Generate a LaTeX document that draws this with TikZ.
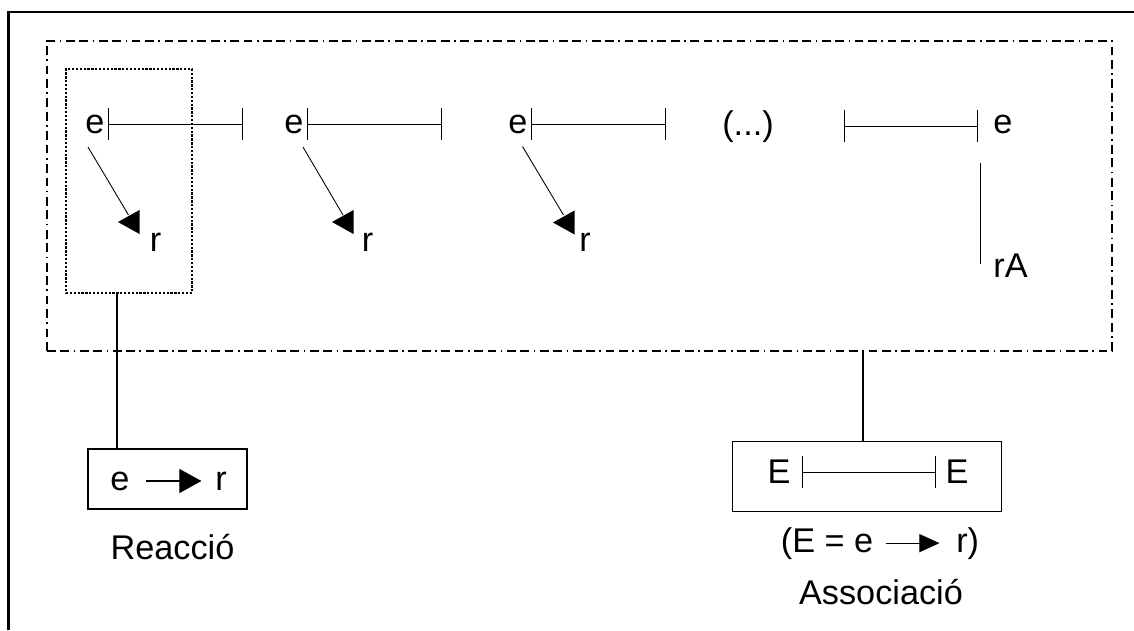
\documentclass[tikz,border=0pt]{standalone}
\usepackage{fontspec}
\setmainfont{Liberation Sans}
\usetikzlibrary{arrows.meta}
\def\headleft(#1){\fill (#1) -- ++(0.43,0.24) -- ++(0,-0.48) -- cycle;}
\tikzset{
	txt/.style={inner sep=2pt, font=\fontsize{19.5}{23}\selectfont},
	seg/.style={line width=0.5pt, {Bar[width=0.64cm]}-{Bar[width=0.64cm]}},
	bx/.style={draw, line width=0.6pt, inner sep=0pt},
}

\begin{document}
\begin{tikzpicture}
			%%%%% START %%%%%
			
			\useasboundingbox (0,0) rectangle (22.68,12.6);
			\draw[line width=1.6pt] (0.17,0) -- (0.17,12.36) -- (22.68,12.36);
			
			\node[bx, line width=1.3pt, dash pattern=on 5pt off 2.6pt on 5pt off 2.6pt on 0.9pt off 2.6pt, minimum width=21.3cm, minimum height=6.2cm] (seq) at (11.59, 8.68) {};
			\node[bx, line width=1.1pt, dash pattern=on 1.3pt off 0.9pt, minimum width=2.52cm, minimum height=4.48cm] (grp) at (2.58, 8.98) {};
			
			\node[txt] (e1) at (1.9, 10.12) {e};
			\node[txt] (e2) at (5.88, 10.12) {e};
			\node[txt] (e3) at (10.36, 10.12) {e};
			\node[txt, anchor=base] (dots) at (14.96, 9.9) {(...)};
			\node[txt] (e4) at (20.06, 10.12) {e};
			
			\coordinate (b1) at (4.85, 10.12);
			\coordinate (b2) at (8.84, 10.12);
			\coordinate (b3) at (13.32, 10.12);
			\coordinate (c4a) at (16.88, 10.08);
			\coordinate (c4b) at (19.56, 10.08);
			\draw[seg] (e1.east) -- (b1);
			\draw[seg] (e2.east) -- (b2);
			\draw[seg] (e3.east) -- (b3);
			\draw[seg] (c4a) -- (c4b);
			
			\node[txt] (r1) at (3.11, 7.76) {r};
			\node[txt] (r2) at (7.35, 7.76) {r};
			\node[txt] (r3) at (11.7, 7.76) {r};
			\node[txt, anchor=base] (rA) at (20.21, 7.06) {rA};
			
			\coordinate (d1) at (1.76, 9.66);
			\coordinate (h1) at (2.57, 8.30);
			\coordinate (d2) at (6.06, 9.66);
			\coordinate (h2) at (6.86, 8.30);
			\coordinate (d3) at (10.45, 9.67);
			\coordinate (h3) at (11.27, 8.30);
			\draw[line width=0.5pt] (d1) -- (h1);
			\draw[line width=0.5pt] (d2) -- (h2);
			\draw[line width=0.5pt] (d3) -- (h3);
			\headleft(2.36, 8.16);
			\headleft(6.64, 8.16);
			\headleft(11.06, 8.15);
			
			\coordinate (v1) at (19.6, 9.34);
			\coordinate (v2) at (19.6, 7.32);
			\draw[line width=0.5pt] (v1) -- (v2);
			
			%%%%% BOTTOM %%%%%
			
			\node[bx, minimum width=3.18cm, minimum height=1.2cm] (reac) at (3.35, 3.02) {};
			\node[txt] (e5) at (2.4, 2.98) {e};
			\node[txt] (r5) at (4.42, 2.98) {r};
			\draw[line width=0.6pt, -{Triangle[length=0.44cm, width=0.48cm]}, shorten <=0.26cm, shorten >=0.2cm] (e5) -- (r5);
			\node[txt, anchor=base] (lreac) at (3.45, 1.42) {Reacció};
			
			\node[bx, minimum width=5.37cm, minimum height=1.41cm] (asoc) at (17.34, 3.07) {};
			\node[txt] (E1) at (15.58, 3.16) {E};
			\node[txt] (E2) at (19.14, 3.16) {E};
			\coordinate (f1) at (16.03, 3.16);
			\coordinate (f2) at (18.71, 3.16);
			\draw[seg] (f1) -- (f2);
			
			\node[txt, anchor=base west] (lft) at (15.54, 1.56) {(E = e};
			\node[txt, anchor=base east] (rgt) at (19.66, 1.56) {r)};
			\draw[line width=0.6pt, -{Triangle[length=0.4cm, width=0.36cm]}, shorten <=0.18cm, shorten >=0.26cm] (lft) -- (rgt);
			\node[txt, anchor=base] (lasoc) at (17.62, 0.52) {Associació};
			
			\coordinate (l1) at (2.34, 0);
			\coordinate (l2) at (17.26, 0);
			\draw[line width=0.6pt] (grp.south -| l1) -- (reac.north -| l1);
			\draw[line width=0.6pt] (seq.south -| l2) -- (asoc.north -| l2);
			
			%%%%% END %%%%%
\end{tikzpicture}
\end{document}
